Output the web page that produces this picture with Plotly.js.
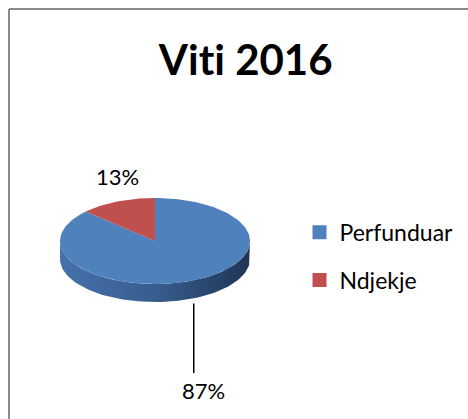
<!DOCTYPE html>
<html>
<head>
<meta charset="utf-8">
<script src="https://cdn.plot.ly/plotly-3.0.1.min.js"></script>
<style>html,body{margin:0;padding:0;background:#fff;}#chart{width:468px;height:419px;}</style>
</head>
<body>
<div id="chart"></div>
<script>
// ---- data ----
const categories = ['Perfunduar', 'Ndjekje'];
const values = [87, 13];
const chartTitle = 'Viti 2016';

// ---- styles / geometry ----
const topColors = ['#4f81bd', '#c0504d'];
const sideScales = [
  [[0, '#4571ab'], [0.5, '#385d8f'], [1, '#1f3555']],
  [[0, '#a84542'], [0.5, '#8f3a38'], [1, '#6a2a28']]
];
const cx = 155, cy = 241, ra = 95, rb = 43, depth = 18;
const FONT = 'Lato, Calibri, "Noto Sans", sans-serif';

const total = values.reduce((s, v) => s + v, 0);
const rad = d => d * Math.PI / 180;
function pt(deg, dy) {
  return [cx + ra * Math.cos(rad(deg)), cy - rb * Math.sin(rad(deg)) + (dy || 0)];
}
function arc(a0, a1, dy) {
  const n = Math.max(2, Math.ceil(Math.abs(a1 - a0) / 2));
  const out = [];
  for (let i = 0; i <= n; i++) out.push(pt(a0 + (a1 - a0) * i / n, dy));
  return out;
}

const slices = [];
let start = 90;
values.forEach((v, i) => {
  const sweep = 360 * v / total;
  const end = start - sweep; // clockwise
  slices.push({i, start, end, mid: (start + end) / 2, pct: Math.round(100 * v / total) + '%'});
  start = end;
});

const traces = [];
// sides (front visible part only)
slices.forEach(s => {
  const lo = s.end, hi = s.start;
  for (let k = -2; k <= 1; k++) {
    const fLo = k * 360 + 180, fHi = k * 360 + 360;
    const a = Math.max(lo, fLo), b = Math.min(hi, fHi);
    if (b > a) {
      const topArc = arc(a, b, 0);
      const botArc = arc(b, a, depth);
      const poly = topArc.concat(botArc);
      poly.push(poly[0]);
      traces.push({
        type: 'scatter', mode: 'lines', x: poly.map(p => p[0]), y: poly.map(p => p[1]),
        fill: 'toself', line: {width: 0, color: 'rgba(0,0,0,0)'},
        fillgradient: {type: 'horizontal', colorscale: sideScales[s.i]},
        showlegend: false, hoverinfo: 'skip'
      });
    }
  }
});
// top faces
slices.forEach(s => {
  const poly = [[cx, cy]].concat(arc(s.start, s.end, 0));
  poly.push([cx, cy]);
  traces.push({
    type: 'scatter', mode: 'lines', x: poly.map(p => p[0]), y: poly.map(p => p[1]),
    fill: 'toself', fillcolor: topColors[s.i], line: {width: 0, color: topColors[s.i]},
    showlegend: false, hoverinfo: 'skip'
  });
});
// legend entries
categories.forEach((c, i) => {
  traces.push({
    type: 'scatter', mode: 'markers', x: [null], y: [null], name: c,
    legendgroup: 'g' + i,
    marker: {symbol: 'square', size: 14, color: topColors[i]}
  });
});

// labels
const annotations = [];
const shapes = [
  {type: 'line', xref: 'x', yref: 'y', x0: 9, y0: 9, x1: 468, y1: 9, line: {color: '#8a8a8a', width: 2}},
  {type: 'line', xref: 'x', yref: 'y', x0: 9, y0: 9, x1: 9, y1: 419, line: {color: '#8a8a8a', width: 2}}
];
slices.forEach(s => {
  const p = pt(s.mid, 0);
  if (Math.sin(rad(s.mid)) > 0) {
    annotations.push({x: p[0], y: p[1] - 25, xref: 'x', yref: 'y', text: s.pct, showarrow: false,
      xanchor: 'center', yanchor: 'middle', font: {family: FONT, size: 22, color: '#000'}});
  } else {
    const lx = p[0] + 1;
    shapes.push({type: 'line', xref: 'x', yref: 'y', x0: lx, y0: p[1] + depth + 5, x1: lx, y1: 373,
      line: {color: '#000', width: 1.5}});
    annotations.push({x: lx + 10, y: 390, xref: 'x', yref: 'y', text: s.pct, showarrow: false,
      xanchor: 'center', yanchor: 'middle', font: {family: FONT, size: 22, color: '#000'}});
  }
});

// zero-width non-joiner avoids the "ti" ligature
const titleText = chartTitle.replace(/ti/g, 't\u200Ci');

const layout = {
  width: 468, height: 419,
  margin: {l: 0, r: 0, t: 0, b: 0},
  paper_bgcolor: '#fff', plot_bgcolor: '#fff',
  title: {text: '<b>' + titleText + '</b>', x: 0.525, xanchor: 'center', y: 0.855, yanchor: 'middle',
    font: {family: FONT, size: 42, color: '#000'}},
  xaxis: {range: [0, 468], visible: false, fixedrange: true},
  yaxis: {range: [419, 0], visible: false, fixedrange: true},
  showlegend: true,
  legend: {x: 0.64, xanchor: 'left', y: 0.497, yanchor: 'top', tracegroupgap: 15,
    font: {family: FONT, size: 23, color: '#000'}, bgcolor: 'rgba(0,0,0,0)', itemclick: false},
  shapes: shapes,
  annotations: annotations
};

Plotly.newPlot('chart', traces, layout, {staticPlot: true, displayModeBar: false});
</script>
</body>
</html>
